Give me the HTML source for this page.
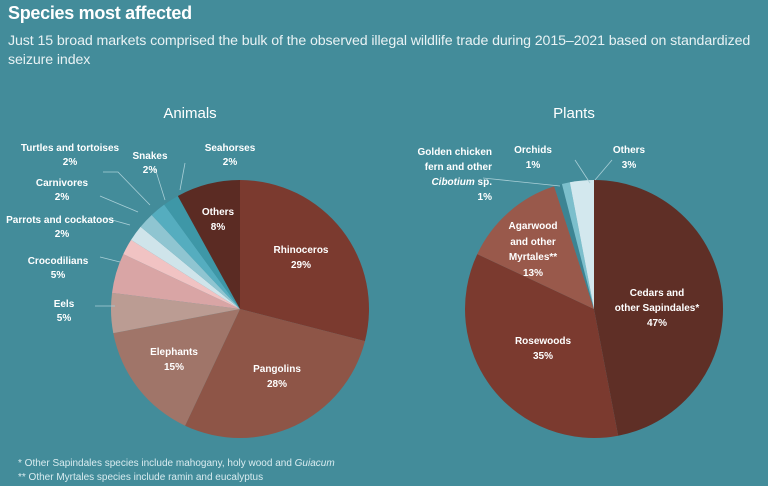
<!DOCTYPE html>
<html><head><meta charset="utf-8">
<style>
body{margin:0;width:768px;height:486px;background:#438c9a;font-family:"Liberation Sans",sans-serif;overflow:hidden;position:relative;color:#fff}
.t{position:absolute;left:8px;top:3px;font-size:18px;font-weight:bold;letter-spacing:-0.3px}
.s{position:absolute;left:8px;top:32px;font-size:14.2px;line-height:19px;color:#e8f2f4;white-space:nowrap;letter-spacing:-0.1px}
.f{position:absolute;left:18px;font-size:10px;color:#d9ecf0}
svg{position:absolute;left:0;top:0}
text{font-family:"Liberation Sans",sans-serif;font-weight:bold;font-size:10px;fill:#fff;text-anchor:middle}
</style></head><body>
<div class="t">Species most affected</div>
<div class="s">Just 15 broad markets comprised the bulk of the observed illegal wildlife trade during 2015–2021 based on standardized<br>seizure index</div>
<svg width="768" height="486" id="sv">
<g id="pies"></g>
<g stroke="#a9cfd7" stroke-width="0.8" fill="none">
<path d="M95 306 H115"/><path d="M100 257 L120 262"/><path d="M105 218 L130 225"/><path d="M100 196 L138 212"/><path d="M103 172 L118 172 L150 205"/><path d="M155 168 L165 200"/><path d="M185 163 L180 190"/>
<path d="M483 178 L560 186"/><path d="M575 160 L590 183"/><path d="M612 160 L595 180"/>
</g>
<text x="190" y="118" style="font-size:15px;font-weight:normal">Animals</text>
<text x="574" y="118" style="font-size:15px;font-weight:normal">Plants</text>
<g>
<text x="70" y="151">Turtles and tortoises</text><text x="70" y="165">2%</text>
<text x="150" y="159">Snakes</text><text x="150" y="173">2%</text>
<text x="230" y="151">Seahorses</text><text x="230" y="165">2%</text>
<text x="62" y="186">Carnivores</text><text x="62" y="200">2%</text>
<text x="60" y="223">Parrots and cockatoos</text><text x="62" y="237">2%</text>
<text x="58" y="264">Crocodilians</text><text x="58" y="278">5%</text>
<text x="64" y="307">Eels</text><text x="64" y="321">5%</text>
<text x="218" y="215">Others</text><text x="218" y="230">8%</text>
<text x="301" y="253">Rhinoceros</text><text x="301" y="268">29%</text>
<text x="277" y="372">Pangolins</text><text x="277" y="387">28%</text>
<text x="174" y="355">Elephants</text><text x="174" y="370">15%</text>
<text x="492" y="155" style="text-anchor:end">Golden chicken</text>
<text x="492" y="170" style="text-anchor:end">fern and other</text>
<text x="492" y="185" style="text-anchor:end"><tspan font-style="italic">Cibotium</tspan> sp.</text>
<text x="492" y="200" style="text-anchor:end">1%</text>
<text x="533" y="153">Orchids</text><text x="533" y="168">1%</text>
<text x="629" y="153">Others</text><text x="629" y="168">3%</text>
<text x="533" y="229">Agarwood</text><text x="533" y="245">and other</text><text x="533" y="260">Myrtales**</text><text x="533" y="276">13%</text>
<text x="657" y="296">Cedars and</text><text x="657" y="311">other Sapindales*</text><text x="657" y="326">47%</text>
<text x="543" y="344">Rosewoods</text><text x="543" y="359">35%</text>
</g>
</svg>
<div class="f" style="top:458px">* Other Sapindales species include mahogany, holy wood and <i>Guiacum</i></div>
<div class="f" style="top:472px">** Other Myrtales species include ramin and eucalyptus</div>
<script>
function pie(cx,cy,r,data){
 var a=0,h='';
 data.forEach(function(d){
  var a1=a+d[0]*3.6,s=a*Math.PI/180,e=a1*Math.PI/180;
  var x0=cx+r*Math.sin(s),y0=cy-r*Math.cos(s),x1=cx+r*Math.sin(e),y1=cy-r*Math.cos(e);
  h+='<path d="M'+cx+' '+cy+' L'+x0.toFixed(2)+' '+y0.toFixed(2)+' A'+r+' '+r+' 0 '+(a1-a>180?1:0)+' 1 '+x1.toFixed(2)+' '+y1.toFixed(2)+'Z" fill="'+d[1]+'"/>';
  a=a1;});
 return h;}
document.getElementById('pies').innerHTML=
 pie(240,309,129,[[29,'#7b3a2f'],[28,'#8e5547'],[15,'#a07569'],[5,'#bb9c93'],[5,'#d9a5a5'],[2,'#f1c3c3'],[2,'#cfe4ea'],[2,'#8fc5d1'],[2,'#55adbf'],[2,'#3e97a7'],[8,'#5b2b23']])+
 pie(594,309,129,[[47,'#5f2f26'],[35,'#7b3a2f'],[13,'#99594b'],[1,'#3c8493'],[1,'#7cbfcc'],[3,'#d3e8ee']]);
</script>
</body></html>
